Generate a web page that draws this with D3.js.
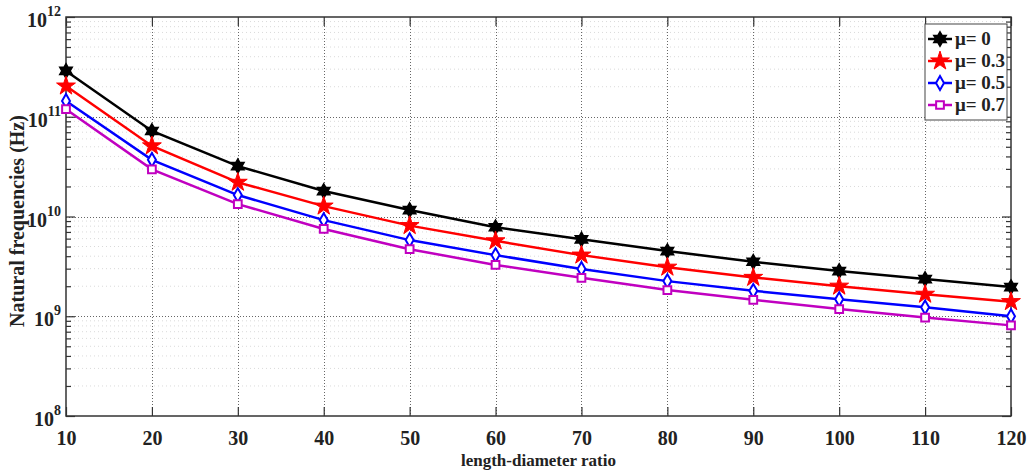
<!DOCTYPE html>
<html>
<head>
<meta charset="utf-8">
<script src="https://cdn.jsdelivr.net/npm/d3@7"></script>
<style>
body { margin: 0; background: #fff; }
text { font-family: "Liberation Serif", "Times New Roman", serif; font-weight: bold; fill: #222; }
</style>
</head>
<body>
<svg width="1028" height="472"></svg>
<script>
const ratios = [10, 20, 30, 40, 50, 60, 70, 80, 90, 100, 110, 120]
const mu0  = [2.88e11, 7.2e10, 3.2e10, 1.8e10, 1.16e10, 7.8e9, 5.9e9, 4.5e9, 3.52e9, 2.84e9, 2.36e9, 1.96e9]
const mu03 = [2.03e11, 5.1e10, 2.2e10, 1.27e10, 8.1e9, 5.7e9, 4.1e9, 3.1e9, 2.45e9, 2.0e9, 1.66e9, 1.40e9]
const mu05 = [1.44e11, 3.7e10, 1.64e10, 9.2e9, 5.8e9, 4.1e9, 2.98e9, 2.25e9, 1.8e9, 1.48e9, 1.23e9, 1.0e9]
const mu07 = [1.19e11, 2.97e10, 1.33e10, 7.5e9, 4.7e9, 3.27e9, 2.43e9, 1.83e9, 1.46e9, 1.18e9, 0.97e9, 0.81e9]
const labels = ["\u03bc= 0", "\u03bc= 0.3", "\u03bc= 0.5", "\u03bc= 0.7"]
const yDecades = [8, 9, 10, 11, 12]

const svg = d3.select("svg")
const pL = 66, pR = 1011, pT = 17, pB = 416

const xScale = d3.scaleLinear().domain([10, 120]).range([pL, pR])
const yScale = d3.scaleLog().domain([1e8, 1e12]).range([pB, pT])

// hexagram (6 point star) for mu = 0
const hexagram = {
	draw(ctx, size) {
		const R = Math.sqrt(size) * 0.72, r = R / Math.sqrt(3)
		for (let i = 0; i < 12; i++) {
			const a = -Math.PI / 2 + i * Math.PI / 6
			const rr = i % 2 ? r : R
			if (i == 0) ctx.moveTo(rr * Math.cos(a), rr * Math.sin(a))
			else ctx.lineTo(rr * Math.cos(a), rr * Math.sin(a))
		}
		ctx.closePath()
	}
}

const series = [
	{ vals: mu0,  color: "#000000", sym: hexagram,        size: 100, fill: "#000000", sw: 1.5 },
	{ vals: mu03, color: "#ff0000", sym: d3.symbolStar,   size: 110, fill: "#ff0000", sw: 1 },
	{ vals: mu05, color: "#0000ff", sym: d3.symbolDiamond, size: 55, fill: "#ffffff", sw: 2 },
	{ vals: mu07, color: "#c000c0", sym: d3.symbolSquare, size: 60,  fill: "#ffffff", sw: 2 }
]

// grid: minor y
const minor = []
yDecades.slice(0, -1).forEach(k => { for (let m = 2; m <= 9; m++) minor.push(m * Math.pow(10, k)) })
svg.append("g").selectAll("line").data(minor).enter().append("line")
	.attr("x1", pL).attr("x2", pR)
	.attr("y1", d => yScale(d)).attr("y2", d => yScale(d))
	.style("stroke", "#dadada").style("stroke-width", 1).style("stroke-dasharray", "1,3")
// grid: major y
svg.append("g").selectAll("line").data([1e9, 1e10, 1e11]).enter().append("line")
	.attr("x1", pL).attr("x2", pR)
	.attr("y1", d => Math.round(yScale(d)) + 0.5).attr("y2", d => Math.round(yScale(d)) + 0.5)
	.style("stroke", "#666").style("stroke-width", 1).style("stroke-dasharray", "1,2")
// grid: x
svg.append("g").selectAll("line").data(ratios.slice(1, -1)).enter().append("line")
	.attr("x1", d => Math.round(xScale(d)) + 0.5).attr("x2", d => Math.round(xScale(d)) + 0.5)
	.attr("y1", pT).attr("y2", pB)
	.style("stroke", "#666").style("stroke-width", 1).style("stroke-dasharray", "1,2")

// axes (ticks point inward)
const xBottom = d3.axisBottom(xScale).tickValues(ratios).tickSize(-9).tickPadding(15).tickFormat(d3.format("d"))
const xTop = d3.axisTop(xScale).tickValues(ratios).tickSize(-9).tickFormat("")
svg.append("g").attr("id", "xAxisG").attr("transform", `translate(0,${pB})`).call(xBottom)
svg.append("g").attr("transform", `translate(0,${pT})`).call(xTop)

const yL = d3.axisLeft(yScale).tickValues(yDecades.map(k => Math.pow(10, k))).tickSize(-9).tickFormat("")
const yR = d3.axisRight(yScale).tickValues(yDecades.map(k => Math.pow(10, k))).tickSize(-9).tickFormat("")
svg.append("g").attr("id", "yAxisG").attr("transform", `translate(${pL},0)`).call(yL)
svg.append("g").attr("transform", `translate(${pR},0)`).call(yR)
const yLm = d3.axisLeft(yScale).tickValues(minor).tickSize(-5).tickFormat("")
const yRm = d3.axisRight(yScale).tickValues(minor).tickSize(-5).tickFormat("")
svg.append("g").attr("transform", `translate(${pL},0)`).call(yLm)
svg.append("g").attr("transform", `translate(${pR},0)`).call(yRm)
svg.selectAll(".domain").remove()
svg.selectAll(".tick line").style("stroke", "#333").style("stroke-width", 1.2)
svg.select("#xAxisG").selectAll("text").style("font-size", "20px").style("fill", "#222")
	.style("font-family", "Liberation Serif").style("font-weight", "bold")

// y tick labels 10^k
const yLab = svg.append("g").selectAll("text").data(yDecades).enter().append("text")
	.attr("x", 61).attr("y", d => yScale(Math.pow(10, d)) + 10)
	.attr("text-anchor", "end").style("font-size", "20px")
yLab.append("tspan").text("10")
yLab.append("tspan").attr("dy", -11).style("font-size", "14px").text(d => d)

// frame
svg.append("rect").attr("x", pL).attr("y", pT).attr("width", pR - pL).attr("height", pB - pT)
	.style("fill", "none").style("stroke", "#333").style("stroke-width", 1.5)

// lines + markers
const line = d3.line().x((d, i) => xScale(ratios[i])).y(d => yScale(d))
series.forEach(s => {
	svg.append("path").datum(s.vals).attr("d", line)
		.style("fill", "none").style("stroke", s.color).style("stroke-width", 2.5)
	svg.append("g").selectAll("path").data(s.vals).enter().append("path")
		.attr("d", d3.symbol().type(s.sym).size(s.size))
		.attr("transform", (d, i) => `translate(${xScale(ratios[i])},${yScale(d)})`)
		.style("fill", s.fill).style("stroke", s.color).style("stroke-width", s.sw)
})

// axis titles
svg.append("text").attr("x", (pL + pR) / 2).attr("y", 466).attr("text-anchor", "middle")
	.style("font-size", "17px").text("length-diameter ratio")
svg.append("text").attr("transform", "translate(24,221) rotate(-90)").attr("text-anchor", "middle")
	.style("font-size", "20px").text("Natural frequencies (Hz)")

// legend
const lg = svg.append("g")
lg.append("rect").attr("x", 925).attr("y", 24).attr("width", 82).attr("height", 96)
	.style("fill", "#fff").style("stroke", "#444").style("stroke-width", 1)
series.forEach((s, i) => {
	const y = 39 + i * 22
	lg.append("line").attr("x1", 928).attr("x2", 952).attr("y1", y).attr("y2", y)
		.style("stroke", s.color).style("stroke-width", 2.5)
	lg.append("path").attr("d", d3.symbol().type(s.sym).size(s.size))
		.attr("transform", `translate(940,${y})`)
		.style("fill", s.fill).style("stroke", s.color).style("stroke-width", s.sw)
	lg.append("text").attr("x", 955).attr("y", y + 6).style("font-size", "19px").text(labels[i])
})
</script>
</body>
</html>
